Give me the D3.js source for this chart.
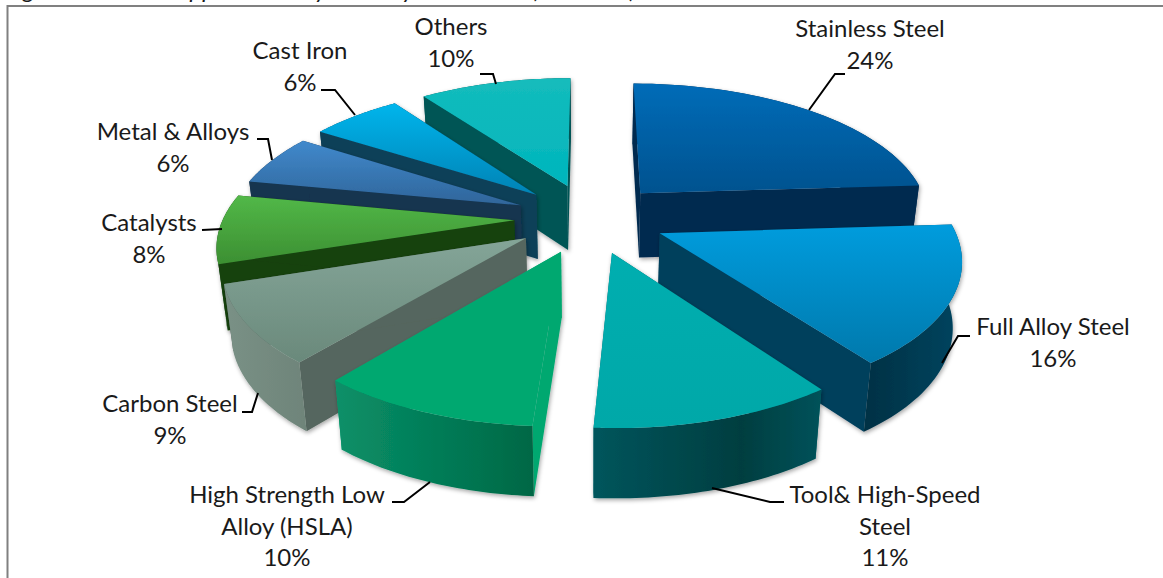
<!DOCTYPE html>
<html><head><meta charset="utf-8">
<style>html,body{margin:0;padding:0;background:#fff}svg{display:block}text{font-family:Lato,"Open Sans",sans-serif;fill:#1a1a1a}</style>
<script src="https://cdn.jsdelivr.net/npm/d3@7/dist/d3.min.js"></script>
</head><body>
<svg id="c" width="1163" height="578"></svg>
<script>
const categories=["Stainless Steel","Full Alloy Steel","Tool& High-Speed Steel","High Strength Low Alloy (HSLA)","Carbon Steel","Catalysts","Metal & Alloys","Cast Iron","Others"];
const values=[24,16,11,10,9,8,6,6,10];
const labelLines=[["Stainless Steel","24%"],["Full Alloy Steel","16%"],["Tool& High-Speed","Steel","11%"],["High Strength Low","Alloy (HSLA)","10%"],["Carbon Steel","9%"],["Catalysts","8%"],["Metal & Alloys","6%"],["Cast Iron","6%"],["Others","10%"]];
const topColors=[["#006cb8","#00528f"],["#009cdd","#0079ac"],["#00aeb0","#00a8a8"],["#00a870","#00a870"],["#84a598","#6a897b"],["#52b848","#3c8f32"],["#4189cc","#2f659a"],["#00b5ec","#0683b5"],["#14bcbc","#00b5bd"]];
const wallColors=["#002a50","#003f5c","#00666c","#00a870","#55665e","#14420f","#14344f","#0a4058","#005455"];
const arcColors=[["#002a50","#002a50","#002a50"],["#00303f","#002f42","#004560"],["#00555c","#003e40","#00525a"],["#0a9068","#00734f","#00613f"],["#7a9186","#5e7268","#55665e"],["#14420f","#14420f","#14420f"],["#14344f","#14344f","#14344f"],["#0a4058","#0a4058","#0a4058"],["#005455","#005455","#005455"]];
const labelX=[870,1053,885,287,170,149,173,300,451];
const labelY=[37,335,503,503,412,231,140,59,35];
const leaderPts=[[[845,74],[835,74],[809,110]],[[970,336],[958,336],[942,363]],[[784,502],[770,502],[712,488]],[[392,502],[404,502],[430,482]],[[258,393],[252,412],[242,412]],[[202,230],[222,229]],[[257,139],[268,139],[272,160]],[[321,90],[335,90],[355,115]],[[480,74],[493,74],[496,84]]];

const svg=d3.select("#c");
const defs=svg.append("defs");
const f=defs.append("filter").attr("id","sh").attr("x","-10%").attr("y","-10%").attr("width","120%").attr("height","120%");
f.append("feDropShadow").attr("dx",1).attr("dy",2).attr("stdDeviation",2).attr("flood-color","#000").attr("flood-opacity",.35);

svg.append("text").attr("x",5).attr("y",-2).attr("font-style","italic").attr("font-size",24).text("Figure 11: Metal Applications by Industry Worldwide (2011-12)");
svg.append("path").attr("d","M7.5,578V6H1163").attr("fill","none").attr("stroke","#808080").attr("stroke-width",2);

const k=0.16,kd=0.06,x0=590,y0=218,B=291,A=134.5,D=65,e=0.26,shrink=0.975;
const angle=d3.scaleLinear().domain([0,d3.sum(values)]).range([0,2*Math.PI]);
const px=(u,v)=>x0+B*u/(1+k*v), py=(u,v)=>y0-A*v/(1+k*v);
function pt(a,r,m){const u=r*Math.sin(a)+e*Math.sin(m),v=r*Math.cos(a)+e*Math.cos(m);return {x:px(u,v),y:py(u,v),bx:x0+(px(u,v)-x0)*shrink,by:py(u,v)+D/(1+kd*v),v};}
const lg=d3.line().x(d=>d[0]).y(d=>d[1]);
let cum=0;
const slices=values.map((val,i)=>{const a0=angle(cum);cum+=val;const a1=angle(cum);return {i,a0,a1,m:(a0+a1)/2};});
slices.forEach(s=>{s.apex=pt(0,0,s.m);s.arc=d3.range(0,41).map(j=>pt(s.a0+(s.a1-s.a0)*j/40,1,s.m));});
const order=slices.slice().sort((a,b)=>b.apex.v-a.apex.v);
order.forEach(s=>{
  const g=svg.append("g").attr("filter","url(#sh)");
  const ys=[s.apex.y,...s.arc.map(p=>p.y)],xs=[s.apex.x,...s.arc.map(p=>p.x)];
  const tg=defs.append("linearGradient").attr("id","t"+s.i).attr("gradientUnits","userSpaceOnUse").attr("x1",0).attr("x2",0).attr("y1",d3.min(ys)).attr("y2",d3.max(ys));
  tg.append("stop").attr("offset",0).attr("stop-color",topColors[s.i][0]);
  tg.append("stop").attr("offset",1).attr("stop-color",topColors[s.i][1]);
  const ag=defs.append("linearGradient").attr("id","a"+s.i).attr("gradientUnits","userSpaceOnUse").attr("y1",0).attr("y2",0).attr("x1",d3.min(xs)).attr("x2",d3.max(xs));
  [0,.65,1].forEach((o,j)=>ag.append("stop").attr("offset",o).attr("stop-color",arcColors[s.i][j]));
  const first=s.arc[0],last=s.arc[40];
  [first,last].forEach(p=>{
    g.append("path").attr("d",lg([[s.apex.x,s.apex.y],[p.x,p.y],[p.bx,p.by],[s.apex.bx,s.apex.by]])+"Z").attr("fill",wallColors[s.i]);
  });
  const wall=[...s.arc.map(p=>[p.x,p.y]),...s.arc.slice().reverse().map(p=>[p.bx,p.by])];
  g.append("path").attr("d",lg(wall)+"Z").attr("fill",`url(#a${s.i})`);
  g.append("path").attr("d",lg([[s.apex.x,s.apex.y],...s.arc.map(p=>[p.x,p.y])])+"Z").attr("fill",`url(#t${s.i})`);
});
leaderPts.forEach(p=>svg.append("path").attr("d",lg(p)).attr("fill","none").attr("stroke","#000").attr("stroke-width",2));
labelLines.forEach((ls,i)=>{
  const t=svg.append("text").attr("text-anchor","middle").attr("font-size",24);
  ls.forEach((l,j)=>t.append("tspan").attr("x",labelX[i]).attr("y",labelY[i]+j*31.5).text(l));
});
</script></body></html>
